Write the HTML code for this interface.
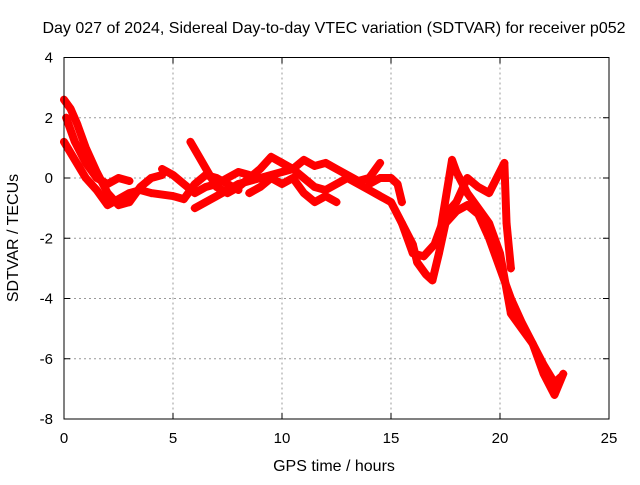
<!DOCTYPE html>
<html><head><meta charset="utf-8"><style>
body{margin:0;background:#fff;}
svg text{font-family:"Liberation Sans",sans-serif;font-size:16px;fill:#000;}
svg text.tk{font-size:15px;}
</style></head><body>
<svg id="chart" width="640" height="480">
<text x="334" y="33" text-anchor="middle">Day 027 of 2024, Sidereal Day-to-day VTEC variation (SDTVAR) for receiver p052</text>
<g id="grid"></g>
<g id="ticks"></g>
<g id="series"></g>
<rect x="64" y="57.5" width="545" height="361.5" fill="none" stroke="#000" stroke-width="1"/>
<text x="334" y="471" text-anchor="middle">GPS time / hours</text>
<text transform="translate(18,238) rotate(-90)" text-anchor="middle">SDTVAR / TECUs</text>
</svg>
<script>
const xTicks=[0,5,10,15,20,25];
const yTicks=[4,2,0,-2,-4,-6,-8];
const trackA=[[0,2.6],[0.3,2.3],[0.6,1.8],[1,1.0],[1.5,0.2],[2,-0.5],[2.5,-0.9],[3,-0.8],[3.5,-0.3],[4,0.0],[4.5,0.1]];
const trackB=[[0,1.2],[0.5,0.6],[1,0],[1.5,-0.4],[2,-0.9],[2.5,-0.7],[3,-0.5],[3.5,-0.4],[4,-0.5],[5,-0.6],[5.5,-0.7],[6,-0.2],[6.5,0.1],[7,0],[7.5,-0.2],[8,-0.4]];
const trackC=[[0.1,2.0],[0.5,1.2],[1,0.5],[1.5,0],[2,-0.2],[2.5,0],[3,-0.1]];
const trackD=[[4.5,0.3],[5,0.1],[5.5,-0.2],[6,-0.5],[6.5,-0.3],[7,-0.2],[7.5,0],[8,0.2],[8.5,0.1]];
const trackE=[[5.8,1.2],[6.2,0.7],[6.6,0.2],[7,-0.3],[7.5,-0.5],[8,-0.3],[8.5,0],[9,0.3],[9.5,0.7],[10,0.5]];
const trackF=[[6,-1.0],[6.5,-0.8],[7,-0.6],[8,-0.2],[9,0.0],[10,0.2],[10.5,0.3],[11,0.6],[11.5,0.4],[12,0.5],[12.5,0.3],[13,0.1],[13.5,-0.1],[14,0.0],[14.5,0.5]];
const trackG=[[8.5,-0.5],[9,-0.3],[9.5,0],[10,-0.2],[10.5,0],[11,-0.5],[11.5,-0.8],[12,-0.6],[12.5,-0.8]];
const trackH=[[10,0.5],[10.5,0.3],[11,0],[11.5,-0.3],[12,-0.4],[12.5,-0.2],[13,0],[13.5,-0.2],[14,-0.4],[14.5,-0.6],[15,-0.8],[15.5,-1.5],[16,-2.2],[16.2,-2.8],[16.6,-3.2],[16.9,-3.4],[17.2,-2.5],[17.5,-1.5],[18,-1.1],[18.5,-0.9],[19,-1.2],[19.5,-2.0],[20,-3.0],[20.5,-4.0],[21,-4.8],[21.5,-5.5],[22,-6.2],[22.5,-6.8],[22.8,-6.6]];
const trackI=[[14,-0.2],[14.5,0],[15,0],[15.3,-0.2],[15.5,-0.8]];
const trackJ=[[15.5,-1.5],[16,-2.5],[16.5,-2.6],[17,-2.2],[17.3,-1.6],[17.8,0.6],[18,0.2],[18.5,-0.5],[19,-1.0],[19.5,-1.5],[20,-2.5],[20.5,-4.5],[21,-5.0],[21.5,-5.5],[22,-6.5],[22.5,-7.2],[22.9,-6.5]];
const trackK=[[17.5,-1.2],[18,-0.8],[18.5,0],[19,-0.3],[19.5,-0.5],[20.2,0.5],[20.3,-1.5],[20.5,-3]];
const tracks=[trackA,trackB,trackC,trackD,trackE,trackF,trackG,trackH,trackI,trackJ,trackK];

const X0=64,X1=609,Y0=419,Y1=57.5;
function xs(v){return X0+(v-0)/(25-0)*(X1-X0);}
function ys(v){return Y0-(v+8)/(12)*(Y0-Y1);}
const NS='http://www.w3.org/2000/svg';
function mk(tag,attrs,parent){const e=document.createElementNS(NS,tag);for(const k in attrs)e.setAttribute(k,attrs[k]);parent.appendChild(e);return e;}
const grid=document.getElementById('grid'),ticks=document.getElementById('ticks'),ser=document.getElementById('series');
xTicks.forEach(t=>{const x=xs(t);
 if(t>0&&t<25){const g=mk('line',{x1:x,x2:x,y1:Y1,y2:Y0,stroke:'#999','stroke-dasharray':'2,3'},grid);
 
 }
 mk('line',{x1:x,x2:x,y1:Y0,y2:Y0-6,stroke:'#000'},ticks);
 mk('line',{x1:x,x2:x,y1:Y1,y2:Y1+6,stroke:'#000'},ticks);
 const l=mk('text',{x:x,y:443,'text-anchor':'middle','class':'tk'},ticks);l.textContent=t;
 
 
});
yTicks.forEach(t=>{const y=ys(t);
 if(t>-8&&t<4){const g=mk('line',{x1:X0,x2:X1,y1:y,y2:y,stroke:'#999','stroke-dasharray':'2,3'},grid);
 
 }
 mk('line',{x1:X0,x2:X0+6,y1:y,y2:y,stroke:'#000'},ticks);
 mk('line',{x1:X1,x2:X1-6,y1:y,y2:y,stroke:'#000'},ticks);
 const l=mk('text',{x:53,y:y+5,'text-anchor':'end','class':'tk'},ticks);l.textContent=t;
 
 
});
tracks.forEach((tr,i)=>{
 const pl=mk('polyline',{points:tr.map(p=>xs(p[0])+','+ys(p[1])).join(' '),fill:'none',stroke:'#f00','stroke-width':8,'stroke-linejoin':'round','stroke-linecap':'round'},ser);
 
 
 tr.forEach(p=>{const x=xs(p[0]),y=ys(p[1]);
  const m=mk('path',{d:`M${x-4},${y}H${x+4}M${x},${y-4}V${y+4}`,stroke:'#f00','stroke-width':1.5},ser);
  
  
 });
});
</script>
</body></html>
